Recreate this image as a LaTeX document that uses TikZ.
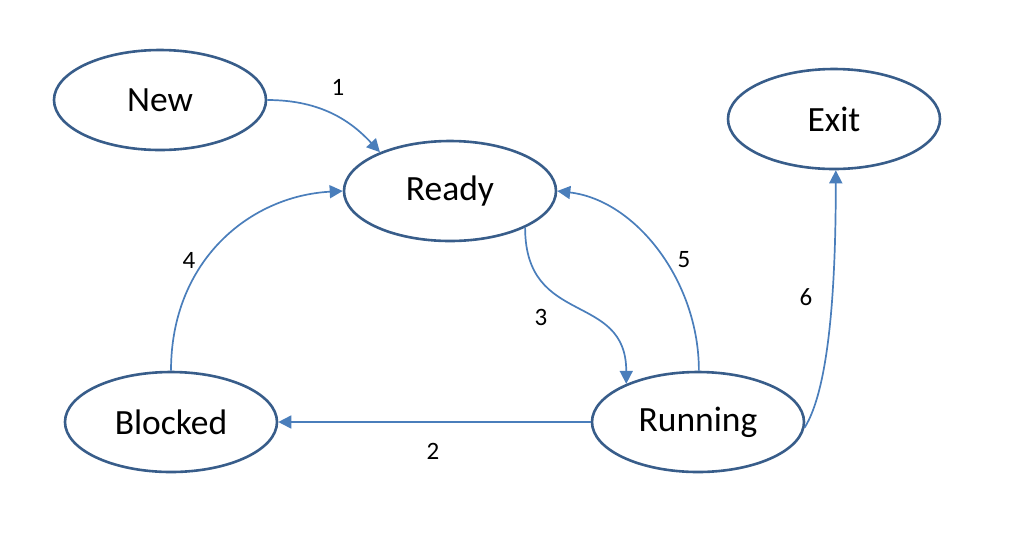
\documentclass[tikz,border=0pt]{standalone}
\usepackage{fontspec}
\setmainfont{Carlito}
\usetikzlibrary{shapes.geometric,arrows.meta}
\definecolor{stateline}{HTML}{385D8A}
\definecolor{flowline}{HTML}{4A7EBB}
\tikzset{
  state/.style={ellipse, draw=stateline, line width=2.6pt, fill=white,
    minimum width=212pt, minimum height=100pt, inner sep=0pt,
    font=\fontsize{35.5}{40}\selectfont},
  flow/.style={draw=flowline, line width=1.7pt,
    -{Triangle[length=13pt,width=13pt]}},
  tag/.style={font=\fontsize{25}{28}\selectfont, inner sep=0pt}
}
\begin{document}
\begin{tikzpicture}[x=1pt,y=-1pt]
\useasboundingbox (0,0) rectangle (1014,558);

% process states
\node[state] (new)     at (160,100) {New};
\node[state] (ready)   at (450,191) {Ready};
\node[state] (exit)    at (834,119) {Exit};
\node[state] (blocked) at (171,422) {Blocked};
\node[state] (running) at (698,422) {Running};

% transitions
\draw[flow] (new.east) .. controls +(55,0) and +(-28,-30) .. (ready.151);
\draw[flow] (running.west) -- (blocked.east);
\draw[flow] (ready.-26) .. controls +(0,100) and +(0,-93) .. (running.152);
\draw[flow] (blocked.90) .. controls +(0,-110) and +(-93,5) .. (ready.180);
\draw[flow] (running.89) .. controls +(0,-90) and +(78,9) .. (ready.0);
\draw[flow] (running.-3) .. controls +(23,-37) and +(0,128) .. (exit.-88);

% transition numbers
\node[tag] (t1) at (338,87)  {1};
\node[tag] (t2) at (433,451) {2};
\node[tag] (t3) at (541,317) {3};
\node[tag] (t4) at (189,260) {4};
\node[tag] (t5) at (684,260) {5};
\node[tag] (t6) at (806,297) {6};
\end{tikzpicture}
\end{document}
